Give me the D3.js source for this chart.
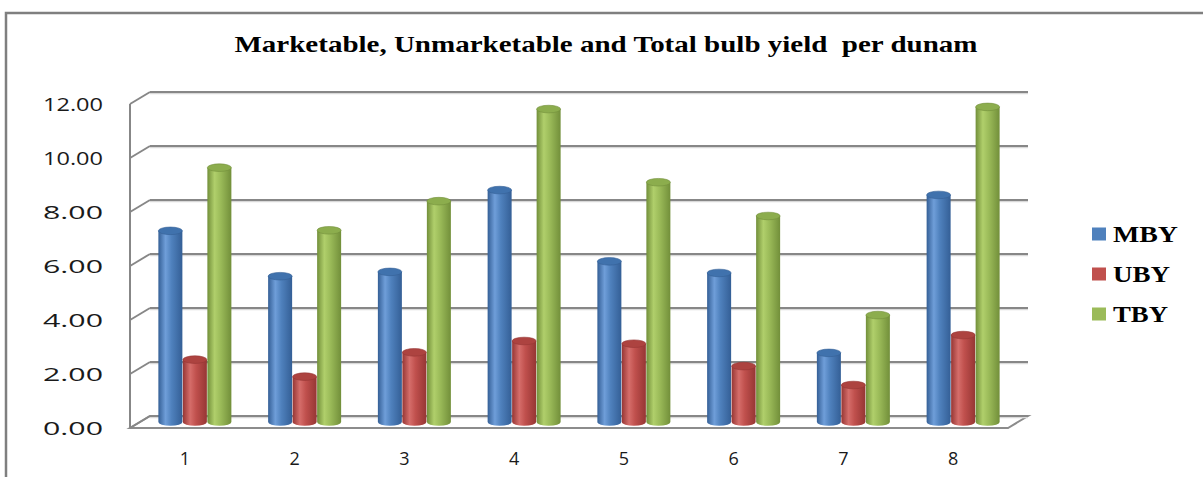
<!DOCTYPE html>
<html>
<head>
<meta charset="utf-8">
<script src="https://cdn.jsdelivr.net/npm/d3@7"></script>
<style>
  html, body { margin: 0; padding: 0; background: #fff; }
  svg { display: block; }
</style>
</head>
<body>
<svg id="chart" width="1203" height="477"></svg>
<script>
// Bulb yield per dunam by treatment
const categories = ["1", "2", "3", "4", "5", "6", "7", "8"];
const seriesNames = ["MBY", "UBY", "TBY"];
const mby = [7.08, 5.40, 5.56, 8.59, 5.95, 5.52, 2.56, 8.41];
const uby = [2.31, 1.68, 2.58, 3.00, 2.90, 2.07, 1.37, 3.22];
const tby = [9.42, 7.10, 8.18, 11.59, 8.88, 7.63, 3.96, 11.67];
const yTicks = [0, 2, 4, 6, 8, 10, 12];
const titleText = "Marketable, Unmarketable and Total bulb yield\u00A0 per dunam";

const series = [mby, uby, tby];
const palette = {
  MBY: { base: "#4f81bd", dark: "#345f96", light: "#6f9ed9", top: "#4072ad" },
  UBY: { base: "#c0504d", dark: "#963634", light: "#d56d6a", top: "#ad4340" },
  TBY: { base: "#9bbb59", dark: "#728f3a", light: "#b0cf6b", top: "#8cad4d" }
};

const svg = d3.select("#chart");
const defs = svg.append("defs");

// 3D box geometry: front face and depth offset
const plotLeft = 130, plotRight = 1008;
const depthX = 20, depthY = -12;
const yFrontBottom = 428;

const x = d3.scaleBand().domain(categories).range([plotLeft, plotRight]).paddingInner(0).paddingOuter(0);
const yBack = d3.scaleLinear().domain([0, 12]).range([yFrontBottom + depthY, yFrontBottom + depthY - 324]);
const yFront = v => yBack(v) - depthY;
const yMid = v => yBack(v) - depthY / 2;
const groupWidth = 73.5;
const x1 = d3.scaleBand().domain(seriesNames).range([-groupWidth / 2, groupWidth / 2]).padding(0);

// outer frame (top and left edges)
svg.append("path")
  .attr("d", "M6,477 L6,13 L1203,13")
  .attr("fill", "none").attr("stroke", "#7f7f7f").attr("stroke-width", 2.5);

// title
svg.append("text")
  .attr("x", 606).attr("y", 52)
  .attr("text-anchor", "middle")
  .attr("font-family", "'Liberation Serif', 'Times New Roman', serif")
  .attr("font-weight", "bold").attr("font-size", 24)
  .attr("textLength", 743).attr("lengthAdjust", "spacingAndGlyphs")
  .text(titleText);

// floor
const floorPts = [
  [plotLeft, yFrontBottom], [plotRight, yFrontBottom],
  [plotRight + depthX, yFrontBottom + depthY], [plotLeft + depthX, yFrontBottom + depthY]
];
svg.append("polygon")
  .attr("points", floorPts.map(p => p.join(",")).join(" "))
  .attr("fill", "#fff").attr("stroke", "#8c8c8c").attr("stroke-width", 2);

// back-wall gridlines with their side-wall diagonals
const grid = svg.append("g");
yTicks.forEach(v => {
  grid.append("line")
    .attr("x1", plotLeft + depthX).attr("x2", plotRight + depthX)
    .attr("y1", yBack(v) + 1.5).attr("y2", yBack(v) + 1.5)
    .attr("stroke", "#d9d9d9").attr("stroke-width", 1.5);
  grid.append("line")
    .attr("x1", plotLeft + depthX).attr("x2", plotRight + depthX)
    .attr("y1", yBack(v)).attr("y2", yBack(v))
    .attr("stroke", "#878787").attr("stroke-width", 2);
  grid.append("line")
    .attr("x1", plotLeft).attr("y1", yFront(v))
    .attr("x2", plotLeft + depthX).attr("y2", yBack(v))
    .attr("stroke", "#878787").attr("stroke-width", 2);
});
// side wall front edge
grid.append("line")
  .attr("x1", plotLeft).attr("x2", plotLeft)
  .attr("y1", yFront(12)).attr("y2", yFront(0))
  .attr("stroke", "#878787").attr("stroke-width", 2);

// y tick labels
svg.append("g").selectAll("text").data(yTicks).join("text")
  .attr("x", 103).attr("y", d => yFront(d))
  .attr("text-anchor", "end").attr("dominant-baseline", "central")
  .attr("font-family", "'Open Sans', Lato, sans-serif").attr("font-size", 19)
  .attr("fill", "#1a1a1a")
  .attr("textLength", 60).attr("lengthAdjust", "spacingAndGlyphs")
  .text(d => d3.format(".2f")(d));

// category labels
svg.append("g").selectAll("text").data(categories).join("text")
  .attr("x", d => x(d) + x.bandwidth() / 2).attr("y", 458)
  .attr("text-anchor", "middle").attr("dominant-baseline", "central")
  .attr("font-family", "'Open Sans', Lato, sans-serif").attr("font-size", 18)
  .attr("fill", "#1a1a1a")
  .text(d => d);

// cylinder shading gradients
seriesNames.forEach(name => {
  const c = palette[name];
  const g = defs.append("linearGradient").attr("id", "grad-" + name)
    .attr("x1", "0%").attr("x2", "100%").attr("y1", "0%").attr("y2", "0%");
  g.append("stop").attr("offset", "0%").attr("stop-color", c.dark);
  g.append("stop").attr("offset", "30%").attr("stop-color", c.light);
  g.append("stop").attr("offset", "55%").attr("stop-color", c.base);
  g.append("stop").attr("offset", "100%").attr("stop-color", c.dark);
});

// cylinders
const ry = 3.8;
const bars = [];
categories.forEach((cat, i) => {
  seriesNames.forEach((name, s) => {
    bars.push({ cat, name, value: series[s][i] });
  });
});

const barG = svg.append("g");
bars.forEach(d => {
  const cx = x(d.cat) + x.bandwidth() / 2 + depthX / 2 + x1(d.name) + x1.bandwidth() / 2;
  const w = x1.bandwidth() - 0.5;
  const yTop = yMid(d.value), yBot = yMid(0);
  const c = palette[d.name];
  const g = barG.append("g");
  g.append("path")
    .attr("d", `M${cx - w / 2},${yTop} L${cx - w / 2},${yBot} A${w / 2},${ry} 0 0 0 ${cx + w / 2},${yBot} L${cx + w / 2},${yTop} Z`)
    .attr("fill", `url(#grad-${d.name})`);
  g.append("ellipse")
    .attr("cx", cx).attr("cy", yTop).attr("rx", w / 2).attr("ry", ry)
    .attr("fill", c.top).attr("stroke", c.dark).attr("stroke-width", 0.6);
});

// legend
const legendWidths = { MBY: 65, UBY: 57, TBY: 55 };
const legend = svg.append("g");
seriesNames.forEach((name, i) => {
  const cy = 234 + i * 40;
  legend.append("rect")
    .attr("x", 1092).attr("y", cy - 6.5).attr("width", 14).attr("height", 13)
    .attr("fill", palette[name].base);
  legend.append("text")
    .attr("x", 1113).attr("y", cy + 8)
    .attr("font-family", "'Liberation Serif', 'Times New Roman', serif")
    .attr("font-weight", "bold").attr("font-size", 23)
    .attr("textLength", legendWidths[name]).attr("lengthAdjust", "spacingAndGlyphs")
    .text(name);
});
</script>
</body>
</html>
